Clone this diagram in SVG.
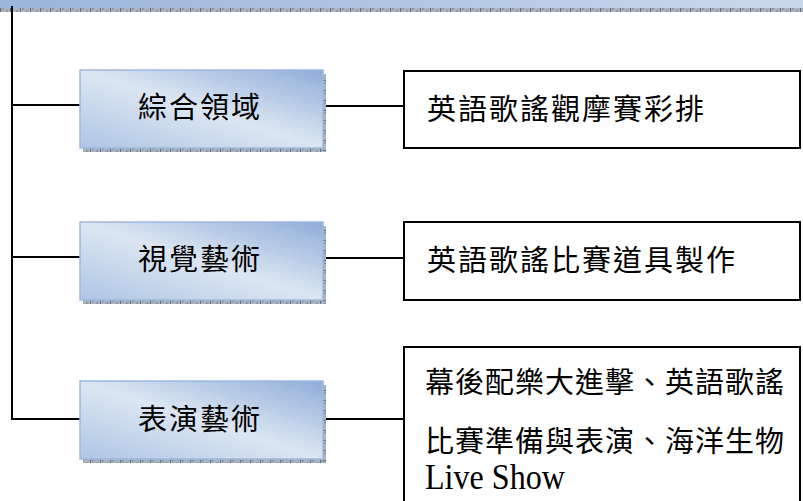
<svg xmlns="http://www.w3.org/2000/svg" width="803" height="501" viewBox="0 0 803 501">
<defs>
<linearGradient id="bg" x1="1" y1="0" x2="0" y2="1">
<stop offset="0" stop-color="#8fadd8"/>
<stop offset="0.5" stop-color="#dce6f2"/>
<stop offset="1" stop-color="#aec5e4"/>
</linearGradient>
<linearGradient id="topbar" x1="0" y1="0" x2="1" y2="0">
<stop offset="0" stop-color="#9ab4da"/>
<stop offset="1" stop-color="#cbd9ec"/>
</linearGradient>
<pattern id="shadow" width="10" height="4" patternUnits="userSpaceOnUse">
<rect width="10" height="4" fill="#aab3bf"/>
<rect x="2" y="0" width="2" height="2" fill="#8d98a8"/>
<rect x="6" y="2" width="2" height="2" fill="#8d98a8"/>
<rect x="0" y="0" width="1" height="4" fill="#5d6c82"/>
</pattern>
<pattern id="shadowv" width="4" height="10" patternUnits="userSpaceOnUse">
<rect width="4" height="10" fill="#aab3bf"/>
<rect x="0" y="2" width="2" height="2" fill="#8d98a8"/>
<rect x="2" y="6" width="2" height="2" fill="#8d98a8"/>
<rect x="0" y="0" width="4" height="1" fill="#5d6c82"/>
</pattern>
</defs>
<style>
.blue{fill:url(#bg);stroke:#9fb9de;stroke-width:1.5}
.sh{fill:url(#shadow)}
.shv{fill:url(#shadowv)}
.box{fill:#fff;stroke:#000;stroke-width:2}
.ln{stroke:#000;stroke-width:2;fill:none}
.t{font-family:"Noto Sans CJK TC","Noto Sans CJK SC",serif;font-size:29px;fill:#000;letter-spacing:2px}
.t3{font-family:"Noto Sans CJK TC","Noto Sans CJK SC",serif;font-size:29px;fill:#000;letter-spacing:1px}
.lat{font-family:"Liberation Serif",serif;font-size:36px;fill:#000}
</style>
<rect width="803" height="501" fill="#fff"/>
<g id="topbar-node">
<rect x="0" y="0" width="803" height="8" fill="url(#topbar)"/>
<rect x="0" y="8" width="803" height="4" class="sh"/>
</g>
<g id="connectors">
<path class="ln" d="M12,6 V419 H80"/>
<path class="ln" d="M12,105 H80"/>
<path class="ln" d="M12,257 H80"/>
<path class="ln" d="M323,106 H404"/>
<path class="ln" d="M323,258 H404"/>
<path class="ln" d="M323,419 H404"/>
</g>
<g id="node-zonghe">
<rect x="83" y="148" width="243" height="4" class="sh"/>
<rect x="323" y="74" width="3" height="78" class="shv"/>
<rect x="80" y="70" width="243" height="78" class="blue"/>
<text class="t" x="138" y="118">綜合領域</text>
</g>
<g id="node-shijue">
<rect x="83" y="300" width="243" height="4" class="sh"/>
<rect x="323" y="226" width="3" height="78" class="shv"/>
<rect x="80" y="222" width="243" height="78" class="blue"/>
<text class="t" x="138" y="270">視覺藝術</text>
</g>
<g id="node-biaoyan">
<rect x="83" y="459" width="243" height="4" class="sh"/>
<rect x="323" y="385" width="3" height="78" class="shv"/>
<rect x="80" y="381" width="243" height="78" class="blue"/>
<text class="t" x="138" y="430">表演藝術</text>
</g>
<g id="node-r1">
<rect x="404" y="71" width="396" height="77" class="box"/>
<text class="t" x="427" y="120">英語歌謠觀摩賽彩排</text>
</g>
<g id="node-r2">
<rect x="404" y="222" width="396" height="78" class="box"/>
<text class="t" x="427" y="271">英語歌謠比賽道具製作</text>
</g>
<g id="node-r3">
<rect x="404" y="347" width="396" height="170" class="box"/>
<text class="t3" x="425" y="393">幕後配樂大進擊、英語歌謠</text>
<text class="t3" x="425" y="452">比賽準備與表演、海洋生物</text>
<text class="lat" x="425" y="489" textLength="140" lengthAdjust="spacingAndGlyphs">Live Show</text>
</g>
</svg>
